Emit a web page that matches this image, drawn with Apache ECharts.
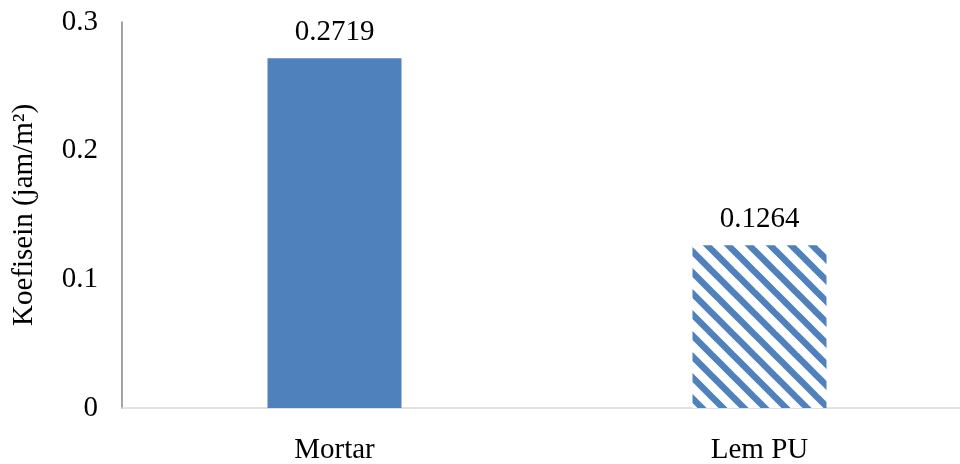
<!DOCTYPE html>
<html><head><meta charset="utf-8">
<script src="https://cdn.jsdelivr.net/npm/echarts@6/dist/echarts.min.js"></script>
<style>html,body{margin:0;padding:0;background:#fff}#c{width:960px;height:464px}</style>
</head><body><div id="c"></div>
<script>
const categories = ['Mortar', 'Lem PU'];
const values = [0.2719, 0.1264];
const valueLabels = ['0.2719', '0.1264'];
const yTicks = [0, 0.1, 0.2, 0.3];

function stripes() {
  const s = 21;
  const c = document.createElement('canvas');
  c.width = s; c.height = s;
  const g = c.getContext('2d');
  g.fillStyle = '#ffffff';
  g.fillRect(0, 0, s, s);
  g.strokeStyle = '#4f81bd';
  g.lineWidth = 6.5;
  for (const k of [-s, 0, s]) {
    g.beginPath();
    g.moveTo(-2, -2 + k);
    g.lineTo(s + 2, s + 2 + k);
    g.stroke();
  }
  return c;
}

const chart = echarts.init(document.getElementById('c'), null, {renderer: 'canvas'});
const font = 'Liberation Serif';
const fs = 29;
chart.setOption({
  animation: false,
  backgroundColor: '#ffffff',
  grid: {left: 122, top: 22, width: 850, height: 386, containLabel: false, outerBoundsMode: 'none'},
  xAxis: {
    type: 'category',
    data: categories,
    axisLine: {show: true, lineStyle: {color: '#d9d9d9', width: 1.5}},
    axisTick: {show: false},
    axisLabel: {color: '#000', fontFamily: font, fontSize: fs, margin: 28}
  },
  yAxis: {
    type: 'value',
    min: 0, max: 0.3, interval: 0.1,
    name: 'Koefisein (jam/m²)',
    nameLocation: 'middle',
    nameGap: 83,
    nameRotate: 90,
    nameTextStyle: {color: '#000', fontFamily: font, fontSize: fs},
    axisLine: {show: true, lineStyle: {color: '#868686', width: 1.5}},
    axisTick: {show: false},
    splitLine: {show: false},
    axisLabel: {
      color: '#000', fontFamily: font, fontSize: fs, margin: 24,
      formatter: v => { const i = yTicks.findIndex(t => Math.abs(t - v) < 1e-9); return i >= 0 ? String(yTicks[i]) : ''; }
    }
  },
  series: [{
    type: 'bar',
    barWidth: 134,
    data: values.map((v, i) => ({
      value: v,
      itemStyle: i === 0 ? {color: '#4f81bd'} : {color: {image: stripes(), repeat: 'repeat'}}
    })),
    label: {
      show: true, position: 'top', distance: 11,
      color: '#000', fontFamily: font, fontSize: fs,
      formatter: p => valueLabels[p.dataIndex]
    }
  }]
});
</script></body></html>
